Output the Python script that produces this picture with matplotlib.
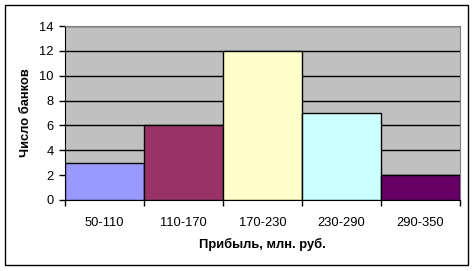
import matplotlib
matplotlib.use("Agg")
import matplotlib.pyplot as plt
from matplotlib.patches import Rectangle

categories = ["50-110", "110-170", "170-230", "230-290", "290-350"]
counts = [3, 6, 12, 7, 2]
colors = ["#9999FF", "#993366", "#FFFFCC", "#CCFFFF", "#660066"]
yticks = [0, 2, 4, 6, 8, 10, 12, 14]

plt.rcParams['font.family'] = ['Liberation Sans', 'DejaVu Sans']
W, H = 476, 271
fig = plt.figure(figsize=(W/100, H/100), dpi=100)
ax = fig.add_axes([65/W, 1-200/H, (460-65)/W, (200-26)/H])
ax.set_facecolor("#C0C0C0")
x = list(range(len(categories)))
ax.bar(x, counts, width=1.0, color=colors, edgecolor="black", linewidth=1, zorder=3)
ax.set_xlim(-0.5, len(categories)-0.5)
ax.set_ylim(0, 14)
ax.set_yticks(yticks)
ax.yaxis.grid(True, color="black", linewidth=1, zorder=1)
ax.set_axisbelow(True)
ax.set_xticks([i - 0.5 for i in range(len(categories)+1)])
ax.set_xticklabels([])
ax.set_xticks(x, minor=True)
ax.set_xticklabels(categories, minor=True, fontsize=9.3)
ax.tick_params(axis='x', which='minor', length=0, pad=12)
ax.tick_params(axis='x', which='major', length=4, width=1, direction='out')
ax.tick_params(axis='y', length=4, width=1, direction='out', labelsize=9.3, pad=4)
for s in ['top', 'right']:
    ax.spines[s].set_color("#808080")
for s in ['left', 'bottom']:
    ax.spines[s].set_color("black")
ax.set_xlabel("Прибыль, млн. руб.", fontsize=9.3, fontweight='bold', labelpad=7)
ax.set_ylabel("Число банков", fontsize=9.3, fontweight='bold', labelpad=5)
fig.add_artist(Rectangle((5/W, 1-265/H), (468-5)/W, (265-5)/H, transform=fig.transFigure,
                         fill=False, edgecolor="black", linewidth=1))
fig.savefig("out.png", dpi=100)
